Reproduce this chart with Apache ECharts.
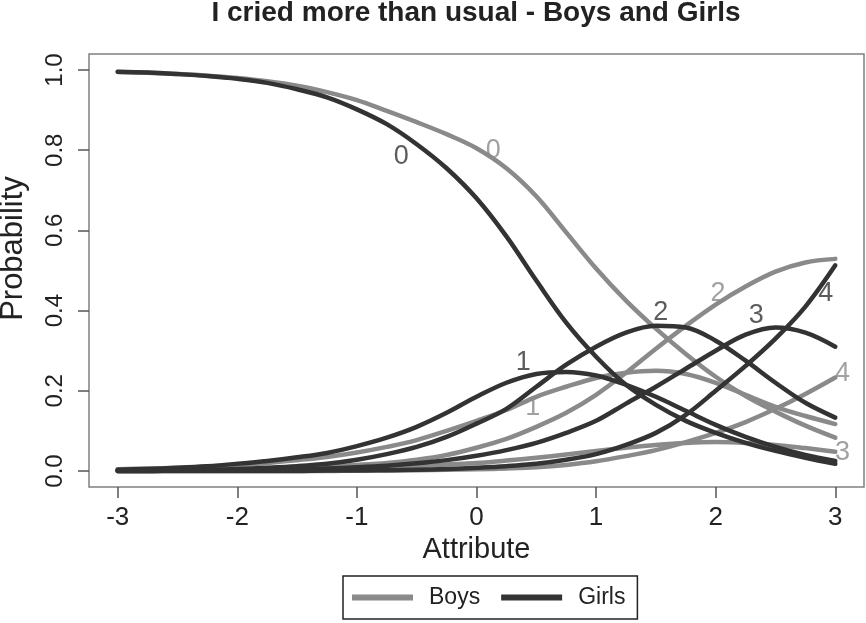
<!DOCTYPE html>
<html><head><meta charset="utf-8">
<script src="https://cdn.jsdelivr.net/npm/echarts@6/dist/echarts.min.js"></script>
<style>html,body{margin:0;padding:0;background:#fff}#c{width:866px;height:623px}</style>
</head><body><div id="c"></div>
<script>
// Attribute grid (x)
const attribute = [-3,-2.75,-2.5,-2.25,-2,-1.75,-1.5,-1.25,-1,-0.75,-0.5,-0.25,0,0.25,0.5,0.75,1,1.25,1.5,1.75,2,2.25,2.5,2.75,3];

// Boys category probabilities
const boys0 = [0.995,0.993,0.990,0.986,0.980,0.972,0.961,0.945,0.925,0.898,0.870,0.840,0.805,0.755,0.685,0.595,0.505,0.425,0.355,0.292,0.235,0.187,0.148,0.113,0.083];
const boys1 = [0.004,0.006,0.008,0.011,0.015,0.020,0.027,0.035,0.046,0.060,0.077,0.100,0.125,0.152,0.185,0.210,0.232,0.245,0.250,0.242,0.220,0.190,0.160,0.137,0.117];
const boys2 = [0.001,0.001,0.002,0.003,0.004,0.006,0.008,0.011,0.015,0.020,0.028,0.040,0.058,0.080,0.110,0.145,0.190,0.245,0.305,0.362,0.415,0.460,0.497,0.520,0.529];
const boys3 = [0.000,0.000,0.001,0.001,0.001,0.002,0.003,0.004,0.006,0.008,0.012,0.016,0.020,0.026,0.033,0.041,0.050,0.058,0.065,0.070,0.072,0.070,0.065,0.057,0.048];
const boys4 = [0.000,0.000,0.000,0.000,0.000,0.000,0.000,0.000,0.001,0.001,0.002,0.003,0.004,0.006,0.009,0.015,0.024,0.037,0.052,0.072,0.095,0.122,0.155,0.192,0.233];

// Girls category probabilities
const girls0 = [0.996,0.994,0.990,0.985,0.978,0.968,0.952,0.932,0.902,0.865,0.815,0.755,0.680,0.585,0.475,0.370,0.285,0.215,0.165,0.125,0.095,0.070,0.050,0.033,0.018];
const girls1 = [0.003,0.005,0.008,0.012,0.018,0.025,0.034,0.045,0.062,0.083,0.110,0.145,0.185,0.220,0.242,0.247,0.238,0.215,0.185,0.150,0.115,0.085,0.060,0.040,0.025];
const girls2 = [0.001,0.001,0.002,0.003,0.005,0.008,0.012,0.018,0.028,0.042,0.060,0.085,0.118,0.155,0.210,0.265,0.310,0.345,0.362,0.358,0.325,0.275,0.220,0.170,0.133];
const girls3 = [0.000,0.000,0.001,0.001,0.002,0.003,0.004,0.006,0.009,0.013,0.019,0.027,0.038,0.052,0.070,0.095,0.125,0.168,0.210,0.255,0.300,0.340,0.358,0.345,0.310];
const girls4 = [0.000,0.000,0.000,0.000,0.000,0.000,0.000,0.001,0.001,0.002,0.003,0.005,0.008,0.012,0.018,0.028,0.042,0.065,0.095,0.140,0.200,0.262,0.330,0.410,0.513];

// Category label placement (data units)
const categoryNames = ['0','1','2','3','4'];
const boysLabelX = [0.14, 0.47, 2.02, 3.06, 3.06];
const boysLabelY = [0.80, 0.158, 0.442, 0.046, 0.242];
const girlsLabelX = [-0.63, 0.39, 1.54, 2.34, 2.92];
const girlsLabelY = [0.783, 0.271, 0.396, 0.388, 0.442];

// Axis ticks
const xTicks = [-3,-2,-1,0,1,2,3];
const yTicks = [0,0.2,0.4,0.6,0.8,1.0];

const BOYS = '#8a8a8a', GIRLS = '#333333';
const FONT = '"Liberation Sans", Arial, sans-serif';

function lineSeries(name, values, color, z) {
  return {
    name, type: 'line', z,
    data: attribute.map((x, i) => [x, values[i]]),
    smooth: 0.35, symbol: 'none', showSymbol: false,
    lineStyle: { color, width: 4.5, cap: 'round', join: 'round' },
    itemStyle: { color },
    emphasis: { disabled: true }, silent: true
  };
}
function labelSeries(name, xs, ys, color) {
  return {
    name, type: 'scatter', z: 10, silent: true,
    data: xs.map((x, i) => [x, ys[i], categoryNames[i]]),
    symbolSize: 2, itemStyle: { color: 'rgba(255,255,255,0)' },
    label: { show: true, position: 'inside', formatter: p => p.value[2],
             fontSize: 27, color, fontFamily: FONT }
  };
}

const series = [
  lineSeries('Boys', boys0, BOYS, 2), lineSeries('Boys', boys1, BOYS, 2),
  lineSeries('Boys', boys2, BOYS, 2), lineSeries('Boys', boys3, BOYS, 2),
  lineSeries('Boys', boys4, BOYS, 2),
  lineSeries('Girls', girls0, GIRLS, 3), lineSeries('Girls', girls1, GIRLS, 3),
  lineSeries('Girls', girls2, GIRLS, 3), lineSeries('Girls', girls3, GIRLS, 3),
  lineSeries('Girls', girls4, GIRLS, 3),
  labelSeries('Boys labels', boysLabelX, boysLabelY, BOYS),
  labelSeries('Girls labels', girlsLabelX, girlsLabelY, GIRLS)
];

const chart = echarts.init(document.getElementById('c'));
chart.setOption({
  animation: false,
  textStyle: { fontFamily: FONT },
  title: {
    text: 'I cried more than usual - Boys and Girls',
    left: 476, top: -1, padding: 0, textAlign: 'center',
    textStyle: { fontSize: 28, fontWeight: 'bold', color: '#222', fontFamily: FONT }
  },
  grid: { left: 89, right: 2, top: 54, bottom: 136, show: true, outerBoundsMode: 'none',
          containLabel: false,
          borderColor: '#808080', borderWidth: 1.5, backgroundColor: 'transparent' },
  legend: {
    data: ['Boys', 'Girls'], left: 343, top: 576, icon: 'rect',
    itemWidth: 61, itemHeight: 6, itemGap: 21, padding: [10, 12, 10, 9],
    borderColor: '#222', borderWidth: 1.5, selectedMode: false,
    textStyle: { fontSize: 23, color: '#222', padding: [0, 0, 0, 11], fontFamily: FONT }
  },
  xAxis: {
    type: 'value', min: -3.24, max: 3.24,
    axisLine: { show: false, onZero: false }, splitLine: { show: false },
    axisTick: { show: true, customValues: xTicks, length: 11, lineStyle: { color: '#555', width: 1.5 } },
    axisLabel: { customValues: xTicks, fontSize: 26, color: '#222', margin: 18, formatter: v => String(v) },
    name: 'Attribute', nameLocation: 'middle', nameGap: 47,
    nameTextStyle: { fontSize: 29, color: '#222', fontFamily: FONT }
  },
  yAxis: {
    type: 'value', min: -0.04, max: 1.04,
    axisLine: { show: false, onZero: false }, splitLine: { show: false },
    axisTick: { show: true, customValues: yTicks, length: 11, lineStyle: { color: '#555', width: 1.5 } },
    axisLabel: { customValues: yTicks, rotate: 90, fontSize: 24, color: '#222', margin: 22,
                 formatter: v => v.toFixed(1) },
    name: 'Probability', nameLocation: 'middle', nameGap: 60,
    nameTextStyle: { fontSize: 31, color: '#222', padding: [0, 0, 0, 44], fontFamily: FONT }
  },
  series
});
</script></body></html>
